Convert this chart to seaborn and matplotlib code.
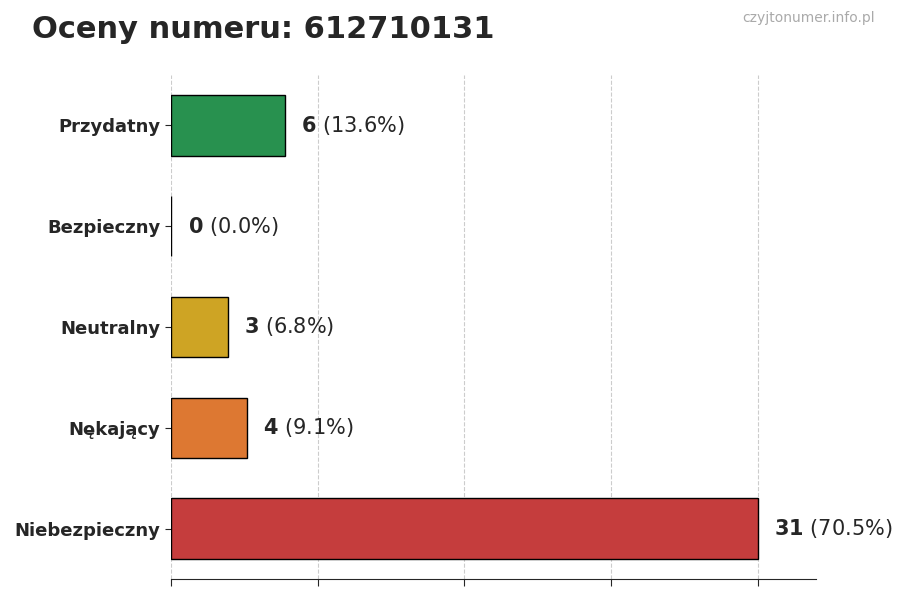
import matplotlib
matplotlib.use("Agg")
import matplotlib.pyplot as plt
import seaborn as sns
import pandas as pd

categories = ["Przydatny", "Bezpieczny", "Neutralny", "Nękający", "Niebezpieczny"]
counts = [6, 0, 3, 4, 31]
percents = ["13.6%", "0.0%", "6.8%", "9.1%", "70.5%"]
colors = ["#16a34a", "#9ca3af", "#eab308", "#f97316", "#dc2626"]

sns.set_style("white")
plt.rcParams['font.family'] = ['DejaVu Sans']
fig, ax = plt.subplots(figsize=(9, 6), dpi=100)
fig.subplots_adjust(left=0.19, right=0.907, top=0.875, bottom=0.035)
df = pd.DataFrame({"cat": categories, "n": counts})
sns.barplot(data=df, y="cat", x="n", hue="cat", palette=colors, legend=False,
            orient="h", width=0.6, edgecolor="black", linewidth=1, ax=ax)
mx = max(counts)
ax.set_xlim(0, mx * 1.1)
ax.set_xticks([mx * i / 4 for i in range(5)])
ax.set_xticklabels([])
ax.tick_params(axis="x", length=5, bottom=True)
ax.tick_params(axis="y", length=4, left=True)
ax.xaxis.grid(True, linestyle="--", color="#cccccc", linewidth=0.8)
ax.set_axisbelow(True)
for s in ["top", "right", "left"]:
    ax.spines[s].set_visible(False)
ax.set_xlabel(""); ax.set_ylabel("")
for lbl in ax.get_yticklabels():
    lbl.set_fontweight("bold"); lbl.set_fontsize(13)
for i, (c, p) in enumerate(zip(counts, percents)):
    ax.annotate(f"$\\bf{{{c}}}$ ({p})", (c, i), xytext=(12, 0), textcoords="offset points",
                va="center", ha="left", fontsize=15)
fig.text(0.035, 0.95, "Oceny numeru: 612710131", fontsize=22, fontweight="bold", va="center")
fig.text(0.972, 0.97, "czyjtonumer.info.pl", fontsize=10, color="#aaaaaa", ha="right", va="center")
fig.savefig("out.png")
